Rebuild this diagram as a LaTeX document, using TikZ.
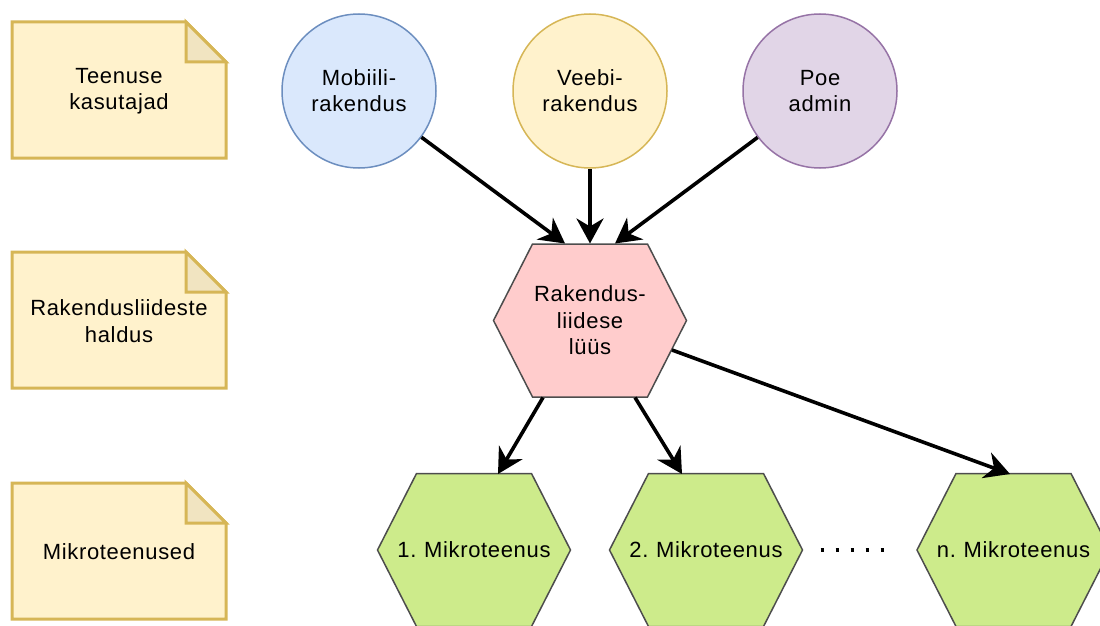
\documentclass[tikz,border=0pt]{standalone}
\usepackage{fontspec}
\setmainfont{Liberation Sans}[LetterSpace=3, WordSpace=0.8]
\usetikzlibrary{arrows.meta,calc}
\definecolor{noteF}{HTML}{FFF2CC}
\definecolor{noteD}{HTML}{D6B656}
\definecolor{foldF}{HTML}{F1E4C1}
\definecolor{blueF}{HTML}{DAE8FC}
\definecolor{blueD}{HTML}{6C8EBF}
\definecolor{purpF}{HTML}{E1D5E7}
\definecolor{purpD}{HTML}{9673A6}
\definecolor{pinkF}{HTML}{FFCCCC}
\definecolor{greenF}{HTML}{CDEB8B}
\definecolor{hexD}{HTML}{4D4D4D}
\newcommand\notebox[3]{%
  \filldraw[notestyle] (12,#2) -- (186,#2) -- (226,#2+40) -- (226,#2+136) -- (12,#2+136) -- cycle;
  \filldraw[notestyle, fill=foldF] (186,#2) -- (186,#2+40) -- (226,#2+40) -- cycle;
  \node[lbl] (#1) at (119,#2+69) {#3};}
\newcommand\hexagon[3]{%
  \filldraw[hexline, fill=#3] (#1-96.5,#2) -- (#1-57.5,#2-76.5) -- (#1+57.5,#2-76.5) -- (#1+96.5,#2) -- (#1+57.5,#2+76.5) -- (#1-57.5,#2+76.5) -- cycle;}
\begin{document}
\begin{tikzpicture}[x=1pt,y=-1pt,
  lbl/.style={font=\fontsize{22}{26.5}\selectfont, align=center, inner sep=0pt, text=black},
  notestyle/.style={draw=noteD, fill=noteF, line width=3pt, line join=miter},
  hexline/.style={draw=hexD, line width=1.5pt, line join=miter},
  circ/.style={circle, minimum size=154pt, inner sep=0pt, line width=1.5pt, font=\fontsize{22}{26}\selectfont, align=center},
  arr/.style={line width=3.6pt, -{Stealth[length=25pt,width=27pt,inset=8pt]}},
  dotline/.style={line width=3.2pt, dash pattern=on 3.2pt off 11.8pt}]
\useasboundingbox (0,0) rectangle (1100,626);
\clip (0,0) rectangle (1100,626);
% notes
\notebox{n1}{22}{Teenuse\\kasutajad}
\notebox{n2}{252}{Rakendusliideste\\haldus}
\notebox{n3}{483}{Mikroteenused}
% clients
\node[circ, draw=blueD, fill=blueF] (mob) at (359,91) {Mobiili-\\rakendus};
\node[circ, draw=noteD, fill=noteF] (web) at (590,91) {Veebi-\\rakendus};
\node[circ, draw=purpD, fill=purpF] (poe) at (820,91) {Poe\\admin};
% gateway
\hexagon{590}{320.5}{pinkF}
\node[lbl] (gw) at (590,320.5) {Rakendus-\\liidese\\lüüs};
% microservices
\hexagon{474}{550}{greenF}
\node[lbl] (m1) at (474,550) {1. Mikroteenus};
\hexagon{706}{550}{greenF}
\node[lbl] (m2) at (706,550) {2. Mikroteenus};
\hexagon{1013.5}{550}{greenF}
\node[lbl] (mn) at (1013.5,550) {n. Mikroteenus};
% dots
\coordinate (d1) at (820.5,550);
\coordinate (d2) at (886,550);
\draw[dotline] (d1) -- (d2);
% arrows
\draw[arr] (mob) -- ($(gw)+(-25,-77)$);
\draw[arr] (web) -- ($(gw)+(0,-77)$);
\draw[arr] (poe) -- ($(gw)+(25,-77)$);
\draw[arr] ($(gw)+(-47,77)$) -- ($(m1)+(24,-76)$);
\draw[arr] ($(gw)+(45,77)$) -- ($(m2)+(-24,-76)$);
\draw[arr] ($(gw)+(82,29.5)$) -- ($(mn)+(-3.5,-76)$);
\end{tikzpicture}
\end{document}
